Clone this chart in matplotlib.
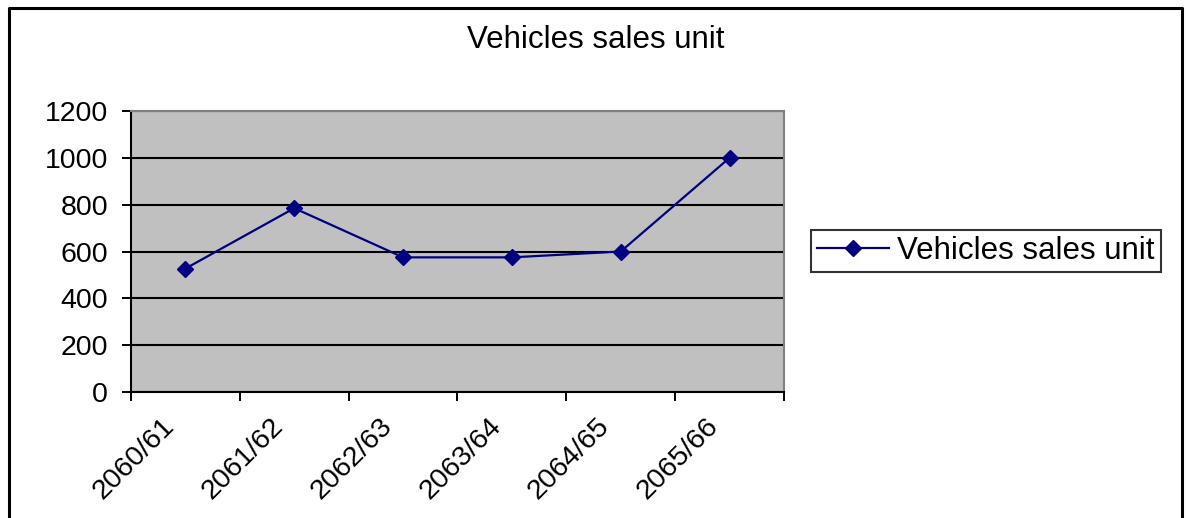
import numpy as np
import matplotlib.pyplot as plt
from matplotlib.lines import Line2D

# data
years = ['2060/61', '2061/62', '2062/63', '2063/64', '2064/65', '2065/66']
sales = [527, 785, 575, 575, 600, 1000]
yticks = [0, 200, 400, 600, 800, 1000, 1200]

plt.rcParams['font.family'] = ['Liberation Sans', 'DejaVu Sans']

W, H = 1186, 518
fig = plt.figure(figsize=(W/100, H/100), dpi=100)
ax = fig.add_axes([131/W, 1-392/H, (784-131)/W, (392-111)/H])

x = np.arange(len(years))
ax.plot(x, sales, color='#000080', lw=1.6, marker='D', ms=8,
        label='Vehicles sales unit', zorder=3)

ax.set_facecolor('#C0C0C0')
ax.set_xlim(-0.5, len(years)-0.5)
ax.set_ylim(0, 1200)
ax.set_yticks(yticks)
ax.yaxis.grid(True, color='black', lw=1.5)
ax.set_axisbelow(True)

# category boundaries get the tick marks, labels sit just left of centers
ax.set_xticks(np.arange(-0.5, len(years)), labels=[])
ax.set_xticks(x - 0.22, labels=years, minor=True)
ax.tick_params(axis='x', which='major', direction='out', length=6.5, width=1.4)
ax.tick_params(axis='x', which='minor', length=0, pad=15, labelsize=20.5)
ax.tick_params(axis='y', direction='out', length=6.5, width=1.4, pad=10, labelsize=20.5)
for lab in ax.get_xticklabels(minor=True):
    lab.set_rotation(45)
    lab.set_ha('right')
    lab.set_va('top')
    lab.set_rotation_mode('anchor')

for s in ['left', 'bottom']:
    ax.spines[s].set_color('black')
    ax.spines[s].set_linewidth(1.5)
for s in ['top', 'right']:
    ax.spines[s].set_color('#808080')
    ax.spines[s].set_linewidth(1.5)

fig.text(596/W, 1-40/H, 'Vehicles sales unit', ha='center', va='center', fontsize=22.5)

leg = fig.legend(loc='center left', bbox_to_anchor=(811/W, 1-251/H), fontsize=22.5,
                 frameon=True, fancybox=False, handlelength=2.3, handletextpad=0.25,
                 borderpad=0.2, borderaxespad=0)
leg.get_frame().set_edgecolor('black')
leg.get_frame().set_linewidth(1.5)

# outer chart frame (bottom edge is cut off in the reference)
fx = [9/W, 9/W, 1182/W, 1182/W]
fy = [0, 1-8/H, 1-8/H, 0]
fig.add_artist(Line2D(fx, fy, transform=fig.transFigure, color='black', lw=2.2))

fig.savefig('out.png', dpi=100)
